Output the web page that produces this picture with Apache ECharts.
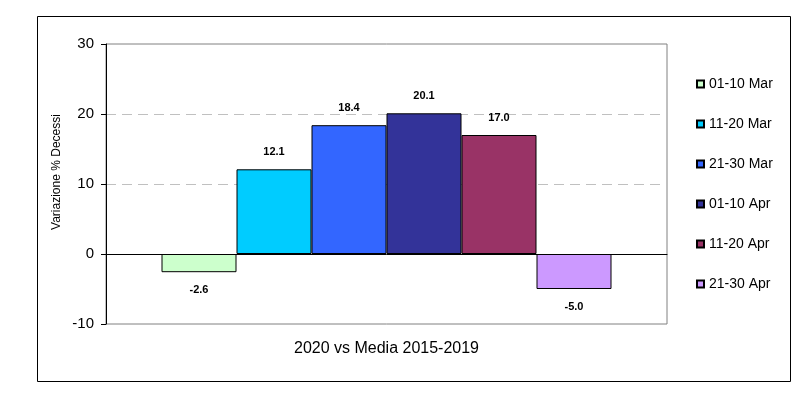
<!DOCTYPE html>
<html>
<head>
<meta charset="utf-8">
<script src="https://cdn.jsdelivr.net/npm/echarts@6/dist/echarts.min.js"></script>
<style>
html,body{margin:0;padding:0;background:#fff;}
#c{width:806px;height:395px;}
</style>
</head>
<body>
<div id="c"></div>
<script>
const categories = ['2020 vs Media 2015-2019'];
const seriesNames = ['01-10 Mar', '11-20 Mar', '21-30 Mar', '01-10 Apr', '11-20 Apr', '21-30 Apr'];
const seriesValues = [-2.6, 12.1, 18.4, 20.1, 17.0, -5.0];
const seriesColors = ['#CCFFCC', '#00CCFF', '#3366FF', '#333399', '#993366', '#CC99FF'];
const yTicks = [-10, 0, 10, 20, 30];
const yTitle = 'Variazione % Decessi';

const FONT = '"Liberation Sans", Arial, sans-serif';
const chart = echarts.init(document.getElementById('c'), null, {renderer: 'canvas'});

const series = seriesNames.map((name, i) => ({
  name: name,
  type: 'bar',
  barWidth: 75,
  barGap: '0%',
  itemStyle: {color: seriesColors[i], borderColor: '#000', borderWidth: 1},
  label: {
    show: true,
    position: seriesValues[i] < 0 ? 'bottom' : 'top',
    distance: 12,
    fontFamily: FONT,
    fontSize: 11,
    fontWeight: 'bold',
    color: '#000',
    formatter: p => p.value.toFixed(1)
  },
  data: [seriesValues[i]]
}));

chart.setOption({
  animation: false,
  backgroundColor: '#fff',
  textStyle: {fontFamily: FONT},
  graphic: [
    {type: 'rect', shape: {x: 37.5, y: 16.5, width: 753, height: 365}, style: {fill: 'none', stroke: '#000', lineWidth: 1}, z: -10},
    {type: 'text', x: 57, y: 172, rotation: Math.PI / 2,
     style: {text: yTitle, font: '12px ' + FONT, fill: '#000', textAlign: 'center', textVerticalAlign: 'middle'}}
  ],
  grid: {left: 106, top: 44, width: 561, height: 280, show: true, borderColor: '#808080', borderWidth: 1, backgroundColor: 'transparent'},
  legend: {
    orient: 'vertical',
    left: 691,
    top: 72,
    itemWidth: 7,
    itemHeight: 7,
    itemGap: 26,
    textStyle: {fontFamily: FONT, fontSize: 14, color: '#000'},
    data: seriesNames.map(n => ({name: n, icon: 'rect'}))
  },
  xAxis: {
    type: 'category',
    data: categories,
    axisLine: {show: true, onZero: true, lineStyle: {color: '#000', width: 1}},
    axisTick: {show: false},
    axisLabel: {show: true, margin: 0, formatter: () => ''},
    name: categories[0],
    nameLocation: 'middle',
    nameGap: 17,
    nameTextStyle: {fontFamily: FONT, fontSize: 16, color: '#000'},
    splitLine: {show: false}
  },
  yAxis: {
    type: 'value',
    min: yTicks[0],
    max: yTicks[yTicks.length - 1],
    interval: 10,
    axisLine: {show: true, lineStyle: {color: '#000', width: 1}},
    axisTick: {show: true, length: 5, lineStyle: {color: '#000'}},
    axisLabel: {fontFamily: FONT, fontSize: 15, color: '#000', margin: 12},
    splitLine: {show: true, lineStyle: {color: ['transparent', 'transparent', '#C0C0C0', '#C0C0C0', 'transparent'], type: [10, 6], width: 1}}
  },
  series: series
});
</script>
</body>
</html>
